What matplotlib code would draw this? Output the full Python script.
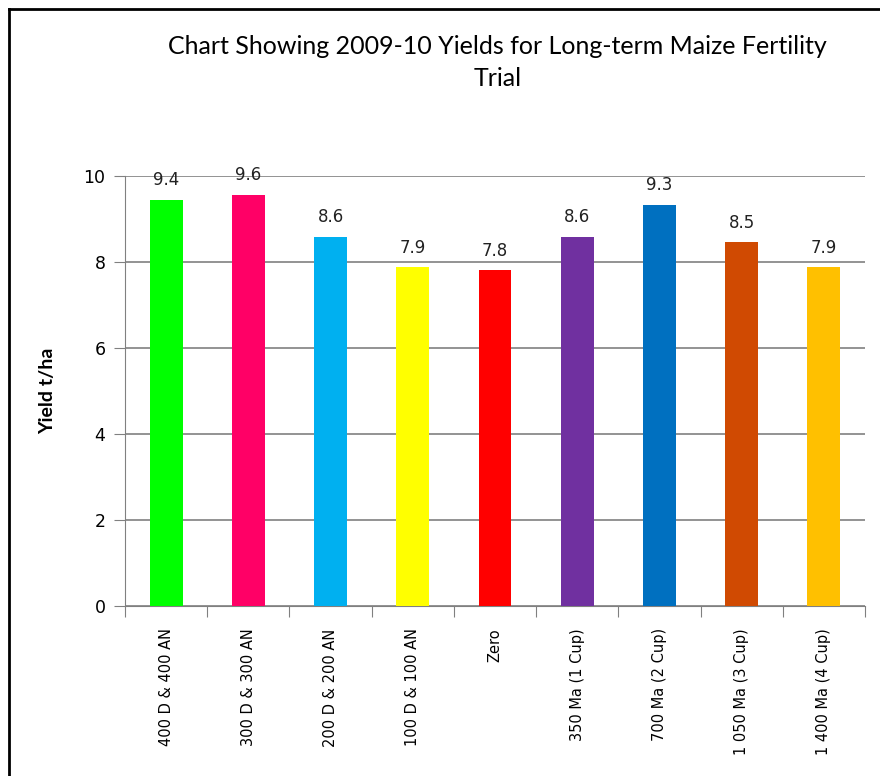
import numpy as np
import matplotlib
matplotlib.use("Agg")
import matplotlib.pyplot as plt
from matplotlib.lines import Line2D

plt.rcParams['font.family'] = ['DejaVu Sans']

categories = ['400 D & 400 AN', '300 D & 300 AN', '200 D & 200 AN', '100 D & 100 AN',
              'Zero', '350 Ma (1 Cup)', '700 Ma (2 Cup)', '1 050 Ma (3 Cup)', '1 400 Ma (4 Cup)']
yields = [9.44, 9.56, 8.58, 7.88, 7.81, 8.58, 9.33, 8.46, 7.88]
colors = ['#00ff00', '#ff0066', '#00b0f0', '#ffff00', '#ff0000',
          '#7030a0', '#0070c0', '#d04a02', '#ffc000']

fig = plt.figure(figsize=(8.8, 7.76), dpi=100)
ax = fig.add_axes([0.142, 0.219, 0.841, 0.554])

x = np.arange(len(categories))
ax.bar(x, yields, width=0.4, color=colors, zorder=3)
for xi, v in zip(x, yields):
    ax.text(xi, v + 0.25, f'{v:.1f}', ha='center', va='bottom', fontsize=12,
            color='#222222', zorder=4)

ax.set_xlim(-0.5, len(categories) - 0.5)
ax.set_ylim(0, 10)
ax.set_yticks(range(0, 11, 2))
ax.tick_params(axis='y', labelsize=12.5, length=8, color='#808080', direction='out', pad=6)
ax.yaxis.grid(True, color='#808080', linewidth=1.2, zorder=0)

ax.set_xticks(np.arange(-0.5, len(categories), 1.0))
ax.set_xticklabels([])
ax.set_xticks(x, minor=True)
ax.set_xticklabels(categories, minor=True, rotation=90, fontsize=10.5, va='top')
ax.tick_params(axis='x', which='major', length=8, color='#808080')
ax.tick_params(axis='x', which='minor', length=0, pad=16)

for s in ['top', 'right']:
    ax.spines[s].set_visible(False)
ax.spines['left'].set_color('#808080')
ax.spines['bottom'].set_color('#808080')

ax.set_ylabel('Yield t/ha', fontsize=14, fontweight='bold', family='Lato', labelpad=20)

fig.text(0.565, 0.94, 'Chart Showing 2009-10 Yields for Long-term Maize Fertility',
         ha='center', va='center', fontsize=18, family='Lato')
fig.text(0.565, 0.899, 'Trial', ha='center', va='center', fontsize=18, family='Lato')

# outer frame (top and left edges visible)
fig.add_artist(Line2D([0.0103, 1.0], [0.988, 0.988], color='black', linewidth=2))
fig.add_artist(Line2D([0.0103, 0.0103], [0.0, 0.988], color='black', linewidth=2))

fig.savefig('out.png', dpi=100)
